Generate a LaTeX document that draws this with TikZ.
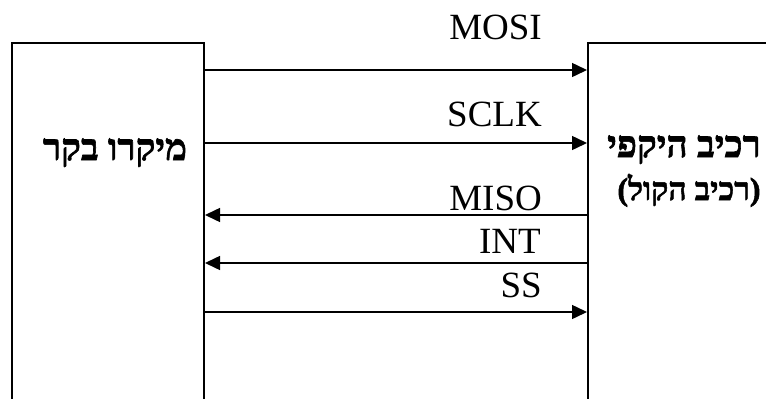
\documentclass[tikz,border=0pt]{standalone}
\usepackage{fontspec}
\setmainfont{Liberation Serif}
\newfontfamily\hebfont[Script=Hebrew, FakeBold=1.6]{Liberation Serif Bold}
\TeXXeTstate=1
\usetikzlibrary{arrows.meta, positioning}

\begin{document}
\begin{tikzpicture}[
    x=1pt, y=-1pt,
    unit/.style={rectangle, draw, line width=2pt, anchor=north west, inner sep=0pt, minimum height=400pt},
    sig/.style={-{Triangle[length=15pt, width=14pt]}, line width=1.5pt},
    siglabel/.style={anchor=base east, inner sep=0pt, font=\fontsize{37}{40}\selectfont},
    hebname/.style={anchor=base, inner sep=0pt, font=\hebfont\fontsize{37}{40}\selectfont},
    hebsub/.style={anchor=base, inner sep=0pt, font=\hebfont\fontsize{32}{35}\selectfont}
]
\useasboundingbox (0,0) rectangle (766,399);
\clip (0,0) rectangle (766,399);

% the two units
\node[unit, minimum width=192pt] (micro) at (11,42) {};
\node[unit, minimum width=240pt] (periph) at (587,42) {};

\node[hebname] (microname) at (115,160) {\beginR מיקרו בקר\endR};
\node[hebname] (periphname) at (684,157) {\beginR רכיב היקפי\endR};
\node[hebsub] (periphsub) at (689,200) {\beginR (רכיב הקול)\endR};

% signal labels
\node[siglabel] (mosi) at (542,39) {MOSI};
\node[siglabel] (sclk) at (542,126) {SCLK};
\node[siglabel] (miso) at (542,210) {MISO};
\node[siglabel] (int) at (541,253) {INT};
\node[siglabel] (ss) at (542,297) {SS};

% signal lines
\draw[sig] (micro.east |- 0,70) -- (periph.west |- 0,70);
\draw[sig] (micro.east |- 0,143) -- (periph.west |- 0,143);
\draw[sig] (periph.west |- 0,215) -- (micro.east |- 0,215);
\draw[sig] (periph.west |- 0,263) -- (micro.east |- 0,263);
\draw[sig] (micro.east |- 0,312) -- (periph.west |- 0,312);

\end{tikzpicture}
\end{document}
